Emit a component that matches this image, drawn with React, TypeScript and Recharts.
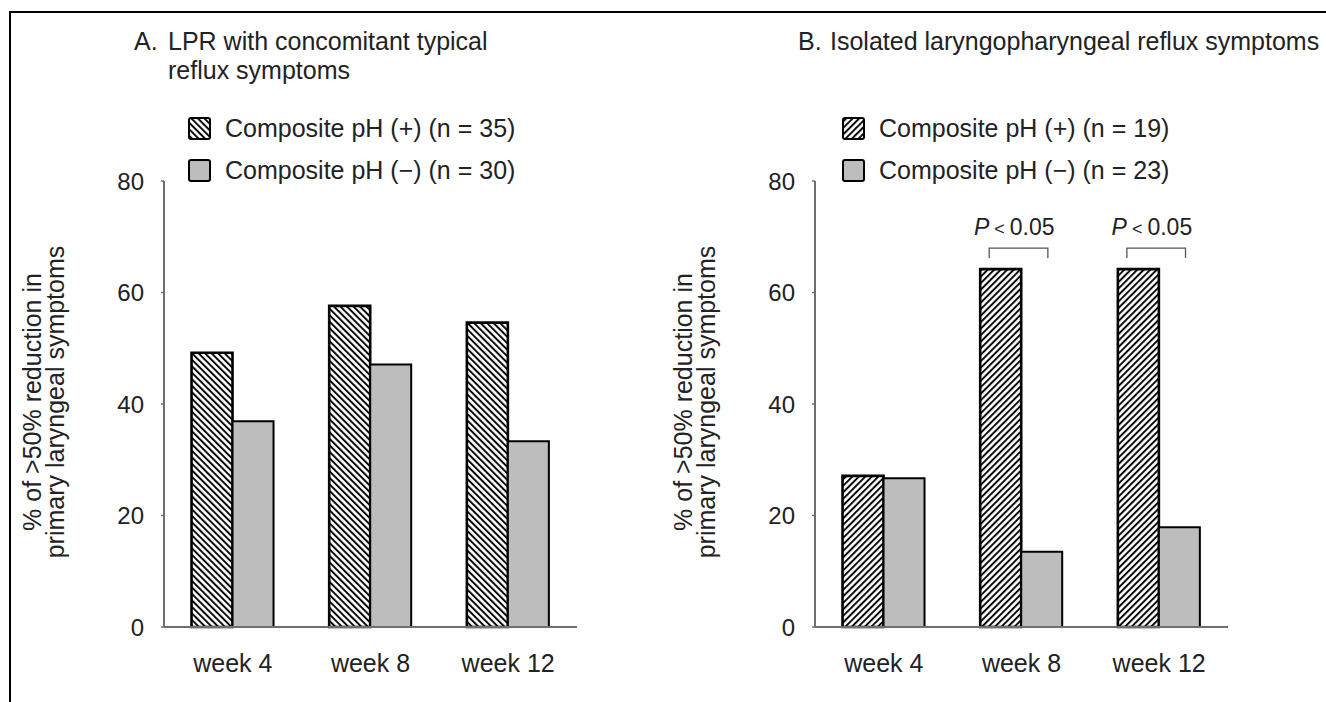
import React from "react";
import { Bar, BarChart, LabelList, XAxis, YAxis } from "recharts";

const weeks = ["week 4", "week 8", "week 12"];
const panelAPositive = [49.2, 57.6, 54.6];
const panelANegative = [36.9, 47.1, 33.3];
const panelBPositive = [27.1, 64.2, 64.2];
const panelBNegative = [26.7, 13.5, 17.9];
const yTicks = [0, 20, 40, 60, 80];
const panelALegend = ["Composite pH (+) (n = 35)", "Composite pH (−) (n = 30)"];
const panelBLegend = ["Composite pH (+) (n = 19)", "Composite pH (−) (n = 23)"];
const panelATitle = ["LPR with concomitant typical", "reflux symptoms"];
const panelBTitle = ["Isolated laryngopharyngeal reflux symptoms"];
const yLabelLines = ["% of >50% reduction in", "primary laryngeal symptoms"];
const significantWeeks = ["week 8", "week 12"];

const FONT = '"Liberation Sans", Arial, Helvetica, sans-serif';
const TEXT = "#222";
const AXIS = "#6f6f6f";
const GRAY = "#bdbdbd";

const H = 702;
const PLOT_W = 413;

function buildRows(pos: number[], neg: number[]) {
  return weeks.map((week, i) => ({ week, pos: pos[i], neg: neg[i] }));
}

function SigMark(props: any) {
  const { x, y, width, index } = props;
  if (!significantWeeks.includes(weeks[index])) return null;
  const left = x + width * 0.22;
  const right = x + width * 1.65;
  const top = y - 21;
  return (
    <g>
      <path
        d={`M${left},${top + 10}V${top}H${right}V${top + 10}`}
        stroke="#555"
        strokeWidth={1.3}
        fill="none"
      />
      <text
        x={x + width * 0.83}
        y={y - 34}
        textAnchor="middle"
        fontSize={23}
        fontFamily={FONT}
        fill={TEXT}
      >
        <tspan fontStyle="italic">P</tspan>
        <tspan fontSize={18}> &lt; </tspan>
        <tspan>0.05</tspan>
      </text>
    </g>
  );
}

type PanelProps = {
  left: number;
  width: number;
  letter: string;
  letterX: number;
  titleX: number;
  legendX: number;
  title: string[];
  legend: string[];
  pos: number[];
  neg: number[];
  hatchId: string;
  angle: number;
  showSig?: boolean;
};

function Panel(p: PanelProps) {
  const rows = buildRows(p.pos, p.neg);
  return (
    <div style={{ position: "absolute", left: p.left, top: 0, width: p.width, height: H }}>
      <BarChart
        width={p.width}
        height={H}
        data={rows}
        margin={{ top: 181, right: p.width - 164 - PLOT_W, bottom: 45, left: 114 }}
        barCategoryGap="20%"
        barGap={0}
      >
        <defs>
          <pattern
            id={p.hatchId}
            patternUnits="userSpaceOnUse"
            width={4.6}
            height={4.6}
            patternTransform={`rotate(${p.angle})`}
          >
            <rect width={4.6} height={4.6} fill="#fff" />
            <line x1={1} y1={0} x2={1} y2={4.6} stroke="#000" strokeWidth={1.9} />
          </pattern>
        </defs>
        <XAxis
          dataKey="week"
          height={30}
          axisLine={{ stroke: AXIS, strokeWidth: 2 }}
          tickLine={false}
          tickSize={0}
          tickMargin={27}
          tick={{ fontSize: 25, fill: TEXT, fontFamily: FONT }}
        />
        <YAxis
          width={50}
          domain={[0, 80]}
          ticks={yTicks}
          axisLine={{ stroke: AXIS, strokeWidth: 2 }}
          tickLine={{ stroke: AXIS, strokeWidth: 1.5 }}
          tickSize={3}
          tickMargin={17}
          tick={{ fontSize: 24, fill: TEXT, fontFamily: FONT }}
        />
        <Bar dataKey="pos" fill={`url(#${p.hatchId})`} stroke="#000" strokeWidth={2.6} isAnimationActive={false}>
          {p.showSig ? <LabelList dataKey="pos" content={SigMark} /> : null}
        </Bar>
        <Bar dataKey="neg" fill={GRAY} stroke="#000" strokeWidth={2} isAnimationActive={false} />

        <g fontFamily={FONT} fill={TEXT}>
          <text x={p.letterX} y={50} fontSize={25}>
            {p.letter}
          </text>
          {p.title.map((line, i) => (
            <text key={line} x={p.titleX} y={50 + i * 29} fontSize={25}>
              {line}
            </text>
          ))}
          {p.legend.map((item, i) => (
            <g key={item}>
              <rect
                x={p.legendX}
                y={118 + i * 42}
                width={21}
                height={21}
                rx={2}
                fill={i === 0 ? `url(#${p.hatchId})` : GRAY}
                stroke="#000"
                strokeWidth={2}
              />
              <text x={p.legendX + 36} y={137 + i * 42} fontSize={25}>
                {item}
              </text>
            </g>
          ))}
          {yLabelLines.map((line, i) => (
            <text
              key={line}
              x={0}
              y={0}
              fontSize={25}
              textAnchor="middle"
              transform={`translate(${41 + i * 23},402) rotate(-90)`}
            >
              {line}
            </text>
          ))}
        </g>
      </BarChart>
    </div>
  );
}

export default function App() {
  return (
    <div
      style={{
        position: "absolute",
        left: 0,
        top: 0,
        width: 1326,
        height: 702,
        overflow: "hidden",
        background: "#fff",
        fontFamily: FONT,
      }}
    >
      <div
        style={{
          position: "absolute",
          left: 9,
          top: 11,
          width: 1400,
          height: 760,
          border: "2px solid #000",
        }}
      />
      <Panel
        left={0}
        width={651}
        letter="A."
        letterX={134}
        titleX={168}
        legendX={189}
        title={panelATitle}
        legend={panelALegend}
        pos={panelAPositive}
        neg={panelANegative}
        hatchId="hatchA"
        angle={-45}
      />
      <Panel
        left={651}
        width={675}
        letter="B."
        letterX={147}
        titleX={179}
        legendX={192}
        title={panelBTitle}
        legend={panelBLegend}
        pos={panelBPositive}
        neg={panelBNegative}
        hatchId="hatchB"
        angle={45}
        showSig
      />
    </div>
  );
}
